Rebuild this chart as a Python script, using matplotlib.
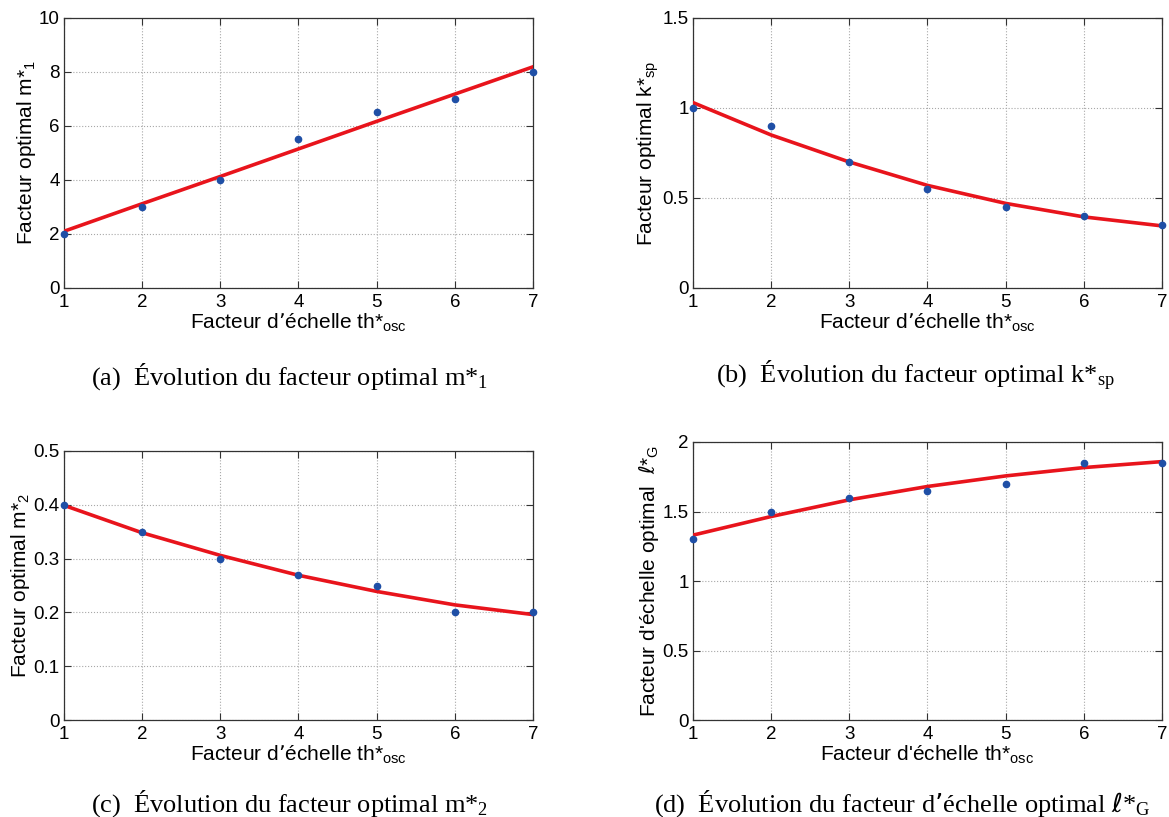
import matplotlib
matplotlib.use("Agg")
import matplotlib.pyplot as plt

# data
th_osc = [1, 2, 3, 4, 5, 6, 7]

m1_pts = [2.0, 3.0, 4.0, 5.5, 6.5, 7.0, 8.0]
m1_fit = [2.10, 3.12, 4.13, 5.15, 6.17, 7.18, 8.19]

ksp_pts = [1.0, 0.9, 0.7, 0.55, 0.45, 0.4, 0.35]
ksp_fit = [1.03, 0.85, 0.70, 0.57, 0.47, 0.395, 0.345]

m2_pts = [0.4, 0.35, 0.3, 0.27, 0.25, 0.2, 0.2]
m2_fit = [0.399, 0.348, 0.306, 0.269, 0.239, 0.214, 0.196]

lg_pts = [1.3, 1.5, 1.6, 1.65, 1.7, 1.85, 1.85]
lg_fit = [1.33, 1.464, 1.584, 1.68, 1.756, 1.816, 1.859]

plt.rcParams['font.family'] = ['Liberation Sans', 'DejaVu Sans']
plt.rcParams['mathtext.default'] = 'regular'

BLUE = '#1f4fa6'
RED = '#e8141c'
SERIF = ['Liberation Serif', 'DejaVu Serif']

panels = [
    # rect, pts, fit, ylim, yticks, ylabel, xlabel, caption, cap_x
    ([0.0547, 0.6475, 0.4012, 0.3305], m1_pts, m1_fit, (0, 10), [0, 2, 4, 6, 8, 10],
     'Facteur optimal m*$_1$', 'Facteur d\u2019échelle th*$_{osc}$',
     '(a)  Évolution du facteur optimal m*$_1$', 0.248),
    ([0.5928, 0.6475, 0.4012, 0.3305], ksp_pts, ksp_fit, (0, 1.5), [0, 0.5, 1, 1.5],
     'Facteur optimal k*$_{sp}$', 'Facteur d\u2019échelle th*$_{osc}$',
     '(b)  Évolution du facteur optimal k*$_{sp}$', 0.783),
    ([0.0547, 0.1187, 0.4012, 0.3293], m2_pts, m2_fit, (0, 0.5), [0, 0.1, 0.2, 0.3, 0.4, 0.5],
     'Facteur optimal m*$_2$', 'Facteur d\u2019échelle th*$_{osc}$',
     '(c)  Évolution du facteur optimal m*$_2$', 0.248),
    ([0.5928, 0.1187, 0.4012, 0.3403], lg_pts, lg_fit, (0, 2), [0, 0.5, 1, 1.5, 2],
     "Facteur d'échelle optimal  $\\mathit{\\ell}$*$_G$", "Facteur d'échelle th*$_{osc}$",
     '(d)  Évolution du facteur d\u2019échelle optimal $\\mathit{\\ell}$*$_G$', 0.772),
]

fig = plt.figure(figsize=(11.69, 8.17), dpi=100)

for rect, pts, fit, ylim, yticks, ylab, xlab, cap, capx in panels:
    ax = fig.add_axes(rect)
    ax.plot(th_osc, fit, color=RED, lw=2.6, zorder=3)
    ax.plot(th_osc, pts, 'o', color=BLUE, ms=4.5, zorder=4, clip_on=False)
    ax.set_xlim(1, 7)
    ax.set_ylim(*ylim)
    ax.set_xticks(th_osc)
    ax.set_yticks(yticks)
    ax.set_yticklabels(['%g' % v for v in yticks])
    ax.grid(True, ls=':', color='#a8a8a8', lw=0.8)
    ax.tick_params(direction='in', top=True, right=True, length=5, labelsize=13.5,
                   color='#333333')
    ax.tick_params(axis='x', pad=4)
    ax.tick_params(axis='y', pad=3)
    for s in ax.spines.values():
        s.set_color('#333333')
        s.set_linewidth(0.9)
    ax.set_xlabel(xlab, fontsize=15, labelpad=1)
    ax.set_ylabel(ylab, fontsize=15, labelpad=1)
    fig.text(capx, max(rect[1] - 0.108, 0.017), cap, family=SERIF, fontsize=19,
             ha='center', va='center')

fig.savefig('out.png', dpi=100)
